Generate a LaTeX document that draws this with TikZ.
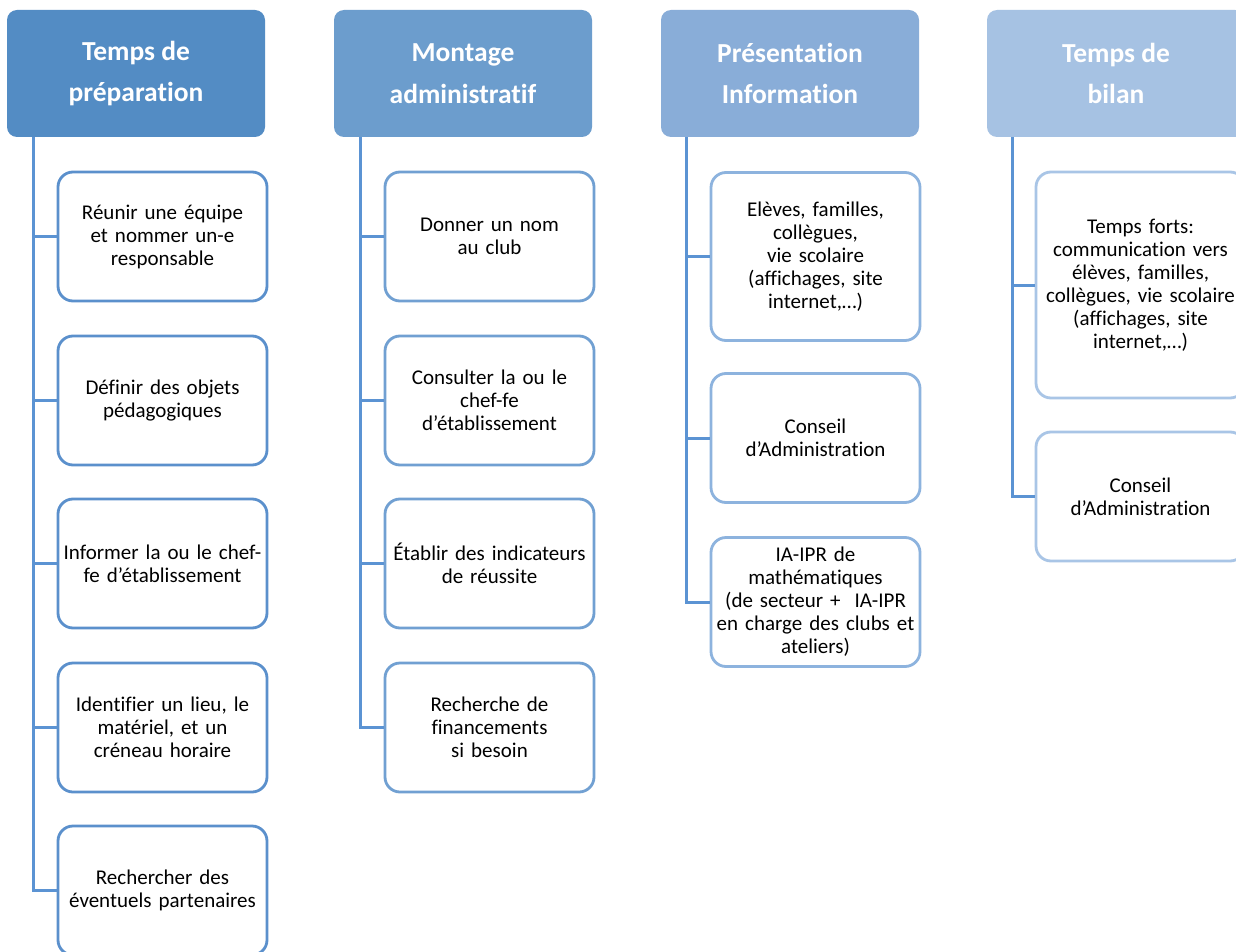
\documentclass[tikz,border=0pt]{standalone}
\usepackage{fontspec}
\setmainfont{Carlito}[Ligatures=CommonOff]
\definecolor{hA}{RGB}{83,140,196}
\definecolor{hB}{RGB}{108,157,205}
\definecolor{hC}{RGB}{137,173,216}
\definecolor{hD}{RGB}{166,194,227}
\definecolor{bA}{RGB}{91,144,204}
\definecolor{bB}{RGB}{113,160,210}
\definecolor{bC}{RGB}{141,179,222}
\definecolor{bD}{RGB}{169,197,230}
\definecolor{lineblue}{RGB}{91,147,211}
\tikzset{
  hdr/.style={rounded corners=10pt, minimum width=258pt, minimum height=127pt,
    inner sep=0pt, text=white, align=center,
    font=\fontsize{27.5}{41.5}\selectfont\bfseries},
  child/.style={draw, line width=2.8pt, rounded corners=15pt, minimum width=209pt,
    minimum height=129pt, inner sep=0pt, text width=205pt, align=center,
    font=\fontsize{21}{23}\selectfont, text=black},
  conn/.style={draw=lineblue, line width=3pt}
}
\begin{document}
\begin{tikzpicture}[x=1pt,y=-1pt]
\useasboundingbox (0,0) rectangle (1236,952);
\clip (0,0) rectangle (1236,952);
\fill[white] (0,0) rectangle (1236,952);
% headers
\node[hdr, fill=hA] (h1) at (136,73.5) {Temps de\\préparation};
\node[hdr, fill=hB] (h2) at (463,73.5) {Montage\\administratif};
\node[hdr, fill=hC] (h3) at (790,73.5) {Présentation\\Information};
\node[hdr, fill=hD] (h4) at (1116,73.5) {Temps de\\bilan};
% column 1
\node[child, draw=bA] (a1) at (162.5,236.5) {Réunir une équipe\\et nommer un-e\\responsable};
\node[child, draw=bA] (a2) at (162.5,400.5) {Définir des objets\\pédagogiques};
\node[child, draw=bA] (a3) at (162.5,563.5) {Informer la ou le chef-\\fe d’établissement};
\node[child, draw=bA] (a4) at (162.5,727.5) {Identifier un lieu, le\\matériel, et un\\créneau horaire};
\node[child, draw=bA] (a5) at (162.5,890.5) {Rechercher des\\éventuels partenaires};
% column 2
\node[child, draw=bB] (b1) at (489.5,236.5) {Donner un nom\\au club};
\node[child, draw=bB] (b2) at (489.5,400.5) {Consulter la ou le\\chef-fe\\d’établissement};
\node[child, draw=bB] (b3) at (489.5,563.5) {Établir des indicateurs\\de réussite};
\node[child, draw=bB] (b4) at (489.5,727.5) {Recherche de\\financements\\si besoin};
% column 3
\node[child, draw=bC, minimum height=168pt] (c1) at (815.5,256.5) {Elèves, familles,\\collègues,\\vie scolaire\\(affichages, site\\internet,…)};
\node[child, draw=bC] (c2) at (815.5,438) {Conseil\\d’Administration};
\node[child, draw=bC] (c3) at (815.5,602) {IA-IPR de\\mathématiques\\(de secteur +\ \ IA-IPR\\en charge des clubs et\\ateliers)};
% column 4
\node[child, draw=bD, minimum height=226pt] (d1) at (1140.5,285) {Temps forts:\\communication vers\\élèves, familles,\\collègues, vie scolaire\\(affichages, site\\internet,…)};
\node[child, draw=bD] (d2) at (1140.5,496.5) {Conseil\\d’Administration};
% connectors
\foreach \c in {a1,a2,a3,a4,a5} \draw[conn] ([xshift=-103pt]h1.south) |- (\c.west);
\foreach \c in {b1,b2,b3,b4} \draw[conn] ([xshift=-103pt]h2.south) |- (\c.west);
\foreach \c in {c1,c2,c3} \draw[conn] ([xshift=-104pt]h3.south) |- (\c.west);
\foreach \c in {d1,d2} \draw[conn] ([xshift=-104pt]h4.south) |- (\c.west);
\end{tikzpicture}
\end{document}
